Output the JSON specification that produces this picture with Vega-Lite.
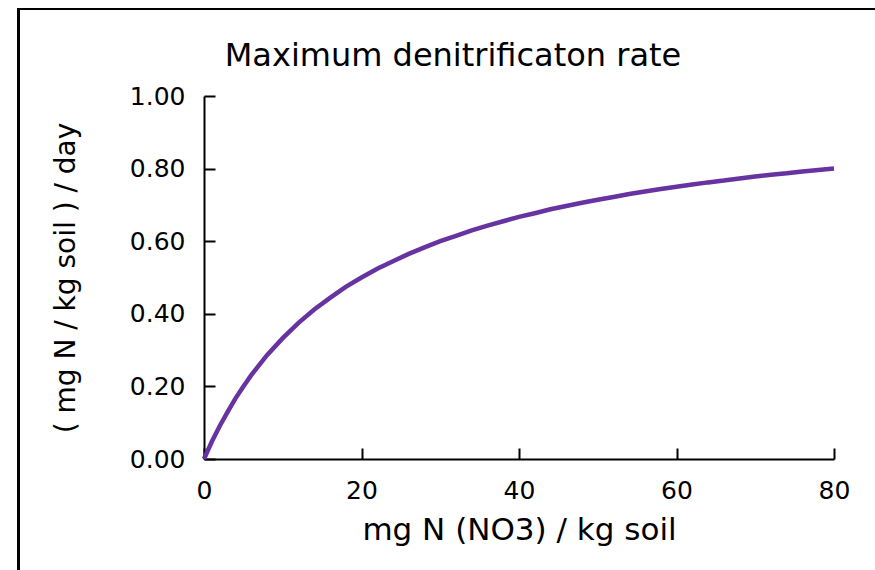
{
  "$schema": "https://vega.github.io/schema/vega-lite/v6.json",
  "autosize": {"type": "none"},
  "width": 630,
  "height": 363,
  "padding": {"left": 204, "top": 96, "right": 41, "bottom": 111},
  "background": "white",
  "config": {"view": {"stroke": null}, "font": "DejaVu Sans"},
  "title": {
    "text": "Maximum denitrificaton rate",
    "font": "DejaVu Sans",
    "fontSize": 32,
    "fontWeight": "normal",
    "color": "black",
    "anchor": "middle",
    "frame": "group",
    "dx": -66,
    "dy": 34,
    "baseline": "alphabetic",
    "offset": -56
  },
  "data": {
    "values": [
      {"n": 0, "rate": 0.0},
      {"n": 1, "rate": 0.048},
      {"n": 2, "rate": 0.091},
      {"n": 3, "rate": 0.13},
      {"n": 4, "rate": 0.167},
      {"n": 5, "rate": 0.2},
      {"n": 6, "rate": 0.231},
      {"n": 8, "rate": 0.286},
      {"n": 10, "rate": 0.333},
      {"n": 12, "rate": 0.375},
      {"n": 14, "rate": 0.412},
      {"n": 16, "rate": 0.444},
      {"n": 18, "rate": 0.474},
      {"n": 20, "rate": 0.5},
      {"n": 22, "rate": 0.524},
      {"n": 24, "rate": 0.545},
      {"n": 26, "rate": 0.565},
      {"n": 28, "rate": 0.583},
      {"n": 30, "rate": 0.6},
      {"n": 32, "rate": 0.615},
      {"n": 34, "rate": 0.63},
      {"n": 36, "rate": 0.643},
      {"n": 38, "rate": 0.655},
      {"n": 40, "rate": 0.667},
      {"n": 42, "rate": 0.677},
      {"n": 44, "rate": 0.688},
      {"n": 46, "rate": 0.697},
      {"n": 48, "rate": 0.706},
      {"n": 50, "rate": 0.714},
      {"n": 52, "rate": 0.722},
      {"n": 54, "rate": 0.73},
      {"n": 56, "rate": 0.737},
      {"n": 58, "rate": 0.744},
      {"n": 60, "rate": 0.75},
      {"n": 62, "rate": 0.756},
      {"n": 64, "rate": 0.762},
      {"n": 66, "rate": 0.767},
      {"n": 68, "rate": 0.773},
      {"n": 70, "rate": 0.778},
      {"n": 72, "rate": 0.783},
      {"n": 74, "rate": 0.787},
      {"n": 76, "rate": 0.792},
      {"n": 78, "rate": 0.796},
      {"n": 80, "rate": 0.8}
    ]
  },
  "layer": [
    {
      "mark": {"type": "rect", "fill": null, "stroke": "black", "strokeWidth": 2, "clip": false},
      "encoding": {
        "x": {"datum": -23.56, "type": "quantitative"},
        "x2": {"datum": 200},
        "y": {"datum": 1.2397, "type": "quantitative"},
        "y2": {"datum": -2}
      }
    },
    {
      "mark": {"type": "line", "color": "#6633a0", "strokeWidth": 4.5, "clip": false},
      "encoding": {
        "x": {
          "field": "n",
          "type": "quantitative",
          "scale": {"domain": [0, 80], "nice": false, "zero": false},
          "axis": {
            "title": "mg N (NO3) / kg soil",
            "values": [0, 20, 40, 60, 80],
            "format": "d",
            "grid": false,
            "labelFlush": false,
            "domainColor": "black",
            "domainWidth": 2,
            "tickColor": "black",
            "tickWidth": 2,
            "tickSize": -11,
            "labelPadding": 30,
            "labelFont": "DejaVu Sans",
            "labelFontSize": 25,
            "labelColor": "black",
            "titleFont": "DejaVu Sans",
            "titleFontSize": 31,
            "titleFontWeight": "normal",
            "titleColor": "black",
            "titlePadding": 12
          }
        },
        "y": {
          "field": "rate",
          "type": "quantitative",
          "scale": {"domain": [0, 1], "nice": false, "zero": false},
          "axis": {
            "title": "( mg N / kg soil ) / day",
            "values": [0, 0.2, 0.4, 0.6, 0.8, 1.0],
            "format": ".2f",
            "grid": false,
            "labelFlush": false,
            "domainColor": "black",
            "domainWidth": 2,
            "tickColor": "black",
            "tickWidth": 2,
            "tickSize": -11,
            "labelPadding": 30,
            "labelFont": "DejaVu Sans",
            "labelFontSize": 25,
            "labelColor": "black",
            "titleFont": "DejaVu Sans",
            "titleFontSize": 28,
            "titleFontWeight": "normal",
            "titleColor": "black",
            "titlePadding": 49
          }
        }
      }
    }
  ]
}
